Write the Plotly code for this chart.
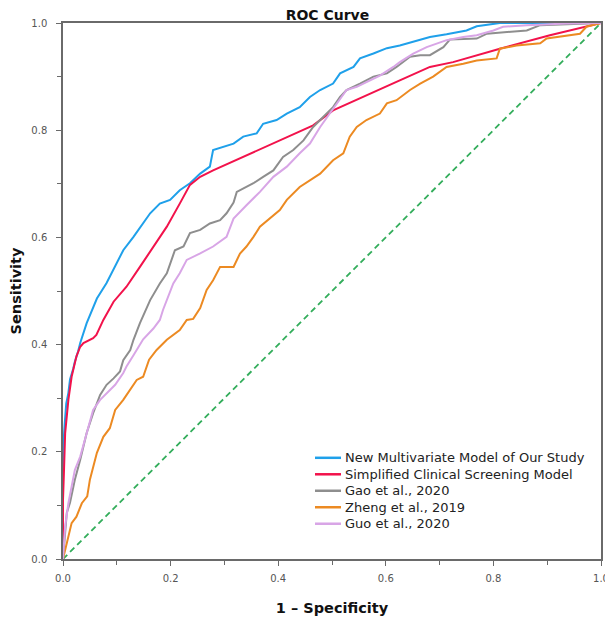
import plotly.graph_objects as go

# ---- data ----
series_names = ["New Multivariate Model of Our Study", "Simplified Clinical Screening Model",
                "Gao et al., 2020", "Zheng et al., 2019", "Guo et al., 2020"]

fpr_new = [0, 0, 0.003, 0.006, 0.01, 0.013, 0.019, 0.022, 0.028, 0.032, 0.044, 0.063, 0.081, 0.097,
           0.112, 0.131, 0.149, 0.162, 0.18, 0.199, 0.217, 0.236, 0.255, 0.273, 0.279, 0.298, 0.317,
           0.335, 0.36, 0.372, 0.397, 0.416, 0.44, 0.459, 0.478, 0.502, 0.515, 0.54, 0.552, 0.577,
           0.602, 0.626, 0.651, 0.682, 0.713, 0.75, 0.769, 0.812, 1.0]
tpr_new = [0, 0.2, 0.25, 0.29, 0.31, 0.335, 0.355, 0.368, 0.387, 0.403, 0.44, 0.486, 0.515, 0.545,
           0.576, 0.601, 0.626, 0.645, 0.663, 0.67, 0.688, 0.701, 0.719, 0.732, 0.763, 0.769, 0.775,
           0.788, 0.794, 0.812, 0.819, 0.831, 0.843, 0.862, 0.875, 0.887, 0.906, 0.918, 0.934, 0.943,
           0.953, 0.958, 0.965, 0.974, 0.979, 0.986, 0.994, 1.0, 1.0]

fpr_simple = [0, 0, 0.002, 0.004, 0.01, 0.016, 0.025, 0.032, 0.038, 0.05, 0.056, 0.062, 0.075, 0.094,
              0.118, 0.143, 0.168, 0.193, 0.217, 0.236, 0.255, 0.279, 0.465, 0.502, 0.626, 0.682,
              0.725, 0.812, 0.905, 1.0]
tpr_simple = [0, 0.11, 0.17, 0.235, 0.297, 0.34, 0.378, 0.396, 0.403, 0.409, 0.412, 0.418, 0.446, 0.48,
              0.508, 0.545, 0.583, 0.62, 0.663, 0.698, 0.713, 0.725, 0.809, 0.837, 0.893, 0.918,
              0.927, 0.952, 0.977, 1.0]

fpr_gao = [0, 0.004, 0.007, 0.013, 0.022, 0.032, 0.044, 0.056, 0.069, 0.081, 0.094, 0.106, 0.112,
           0.125, 0.131, 0.143, 0.162, 0.18, 0.193, 0.208, 0.224, 0.236, 0.255, 0.273, 0.292, 0.304,
           0.317, 0.323, 0.341, 0.354, 0.372, 0.391, 0.409, 0.428, 0.447, 0.465, 0.484, 0.502, 0.515,
           0.527, 0.552, 0.577, 0.602, 0.62, 0.645, 0.664, 0.682, 0.707, 0.719, 0.769, 0.788, 0.862,
           0.887, 0.973, 1.0]
tpr_gao = [0, 0.061, 0.086, 0.105, 0.148, 0.185, 0.235, 0.272, 0.306, 0.325, 0.337, 0.35, 0.371,
           0.39, 0.409, 0.44, 0.483, 0.514, 0.533, 0.576, 0.583, 0.608, 0.614, 0.626, 0.632, 0.645,
           0.665, 0.685, 0.694, 0.701, 0.713, 0.725, 0.75, 0.763, 0.781, 0.806, 0.825, 0.843, 0.862,
           0.875, 0.887, 0.9, 0.906, 0.918, 0.937, 0.94, 0.94, 0.955, 0.969, 0.971, 0.98, 0.986,
           0.996, 0.999, 1.0]

fpr_zheng = [0, 0.007, 0.016, 0.025, 0.035, 0.045, 0.05, 0.063, 0.075, 0.087, 0.097, 0.112, 0.125,
             0.137, 0.149, 0.16, 0.174, 0.193, 0.217, 0.23, 0.242, 0.255, 0.267, 0.279, 0.292, 0.317,
             0.329, 0.341, 0.354, 0.366, 0.403, 0.416, 0.44, 0.459, 0.478, 0.502, 0.521, 0.533, 0.546,
             0.564, 0.589, 0.602, 0.62, 0.645, 0.664, 0.688, 0.713, 0.744, 0.769, 0.806, 0.812, 0.843,
             0.887, 0.899, 0.936, 0.961, 0.973, 1.0]
tpr_zheng = [0, 0.03, 0.067, 0.079, 0.104, 0.117, 0.148, 0.198, 0.228, 0.244, 0.278, 0.297, 0.316,
             0.334, 0.34, 0.372, 0.39, 0.409, 0.427, 0.446, 0.448, 0.468, 0.502, 0.52, 0.545, 0.545,
             0.57, 0.583, 0.601, 0.62, 0.651, 0.67, 0.694, 0.707, 0.719, 0.744, 0.757, 0.788, 0.806,
             0.819, 0.831, 0.85, 0.856, 0.875, 0.887, 0.9, 0.918, 0.924, 0.93, 0.934, 0.952, 0.958,
             0.962, 0.971, 0.977, 0.98, 0.993, 1.0]

fpr_guo = [0, 0.004, 0.01, 0.022, 0.032, 0.044, 0.056, 0.069, 0.081, 0.097, 0.112, 0.118, 0.131,
           0.149, 0.168, 0.18, 0.186, 0.193, 0.205, 0.217, 0.23, 0.255, 0.279, 0.304, 0.317, 0.341,
           0.366, 0.391, 0.416, 0.44, 0.459, 0.478, 0.496, 0.515, 0.527, 0.546, 0.564, 0.589, 0.614,
           0.626, 0.651, 0.676, 0.713, 0.744, 0.769, 0.8, 0.818, 0.862, 0.936, 1.0]
tpr_guo = [0, 0.061, 0.104, 0.166, 0.191, 0.235, 0.278, 0.297, 0.309, 0.325, 0.347, 0.359, 0.38,
           0.41, 0.43, 0.446, 0.465, 0.483, 0.514, 0.533, 0.558, 0.57, 0.583, 0.601, 0.635, 0.66,
           0.685, 0.713, 0.732, 0.757, 0.775, 0.806, 0.831, 0.856, 0.875, 0.881, 0.89, 0.902, 0.918,
           0.927, 0.943, 0.955, 0.968, 0.974, 0.977, 0.986, 0.993, 0.996, 0.999, 1.0]

ref_x = [0, 1]
ref_y = [0, 1]

tick_vals = [0, 0.2, 0.4, 0.6, 0.8, 1.0]
tick_text = ["0.0", "0.2", "0.4", "0.6", "0.8", "1.0"]

colors = ["#1FA0EA", "#F2124B", "#8E8E8E", "#EC8A22", "#D8A5E6"]
xs = [fpr_new, fpr_simple, fpr_gao, fpr_zheng, fpr_guo]
ys = [tpr_new, tpr_simple, tpr_gao, tpr_zheng, tpr_guo]

FONT = "DejaVu Sans"
W, H = 605, 613  # page body has an 8px margin

fig = go.Figure()
fig.add_trace(go.Scatter(x=ref_x, y=ref_y, mode="lines", showlegend=False, hoverinfo="skip",
                         line=dict(color="#33AD5B", width=1.8, dash="6px,4px")))
for i in range(5):
    fig.add_trace(go.Scatter(x=xs[i], y=ys[i], mode="lines", name=series_names[i], showlegend=False,
                             line=dict(color=colors[i], width=2)))

# legend drawn inside the plot (bottom right), tight row spacing as in the reference
leg_x0, leg_x1, leg_tx = 0.4684, 0.5167, 0.5204
leg_y0, leg_dy = 0.1888, 0.03075
for i, name in enumerate(series_names):
    yy = leg_y0 - i * leg_dy
    fig.add_shape(type="line", xref="paper", yref="paper", x0=leg_x0, x1=leg_x1, y0=yy, y1=yy,
                  line=dict(color=colors[i], width=2.5))
    fig.add_annotation(xref="paper", yref="paper", x=leg_tx, y=yy, xanchor="left", yanchor="middle",
                       text=name, showarrow=False,
                       font=dict(family=FONT, size=13, color="#222222"))

axis_common = dict(range=[0, 1], tickvals=tick_vals, ticktext=tick_text, showgrid=False,
                   zeroline=False, showline=True, linecolor="#6a6a6a", linewidth=1.5, mirror=True,
                   ticks="outside", ticklen=5, tickcolor="#6a6a6a", tickwidth=1,
                   tickfont=dict(family=FONT, size=10, color="#555555"),
                   minor=dict(dtick=0.1, ticks="outside", ticklen=4, tickcolor="#6a6a6a", tickwidth=1),
                   fixedrange=True, automargin=False)

fig.update_layout(
    width=W, height=H,
    margin=dict(l=55, r=12, t=15, b=62, autoexpand=False),
    paper_bgcolor="white", plot_bgcolor="white",
    title=dict(text="<b>ROC Curve</b>", x=0.528, xanchor="center", y=1 - 7.5 / H, yanchor="middle",
               font=dict(family=FONT, size=14, color="#111111")),
    xaxis=dict(**axis_common, ticklabelstandoff=4,
               title=dict(text="<b>1 – Specificity</b>", standoff=20,
                          font=dict(family=FONT, size=14.5, color="#111111"))),
    yaxis=dict(**axis_common, ticklabelstandoff=7,
               title=dict(text="<b>Sensitivity</b>", standoff=25,
                          font=dict(family=FONT, size=14.5, color="#111111"))),
    showlegend=False,
)

fig.write_html("out.html")
